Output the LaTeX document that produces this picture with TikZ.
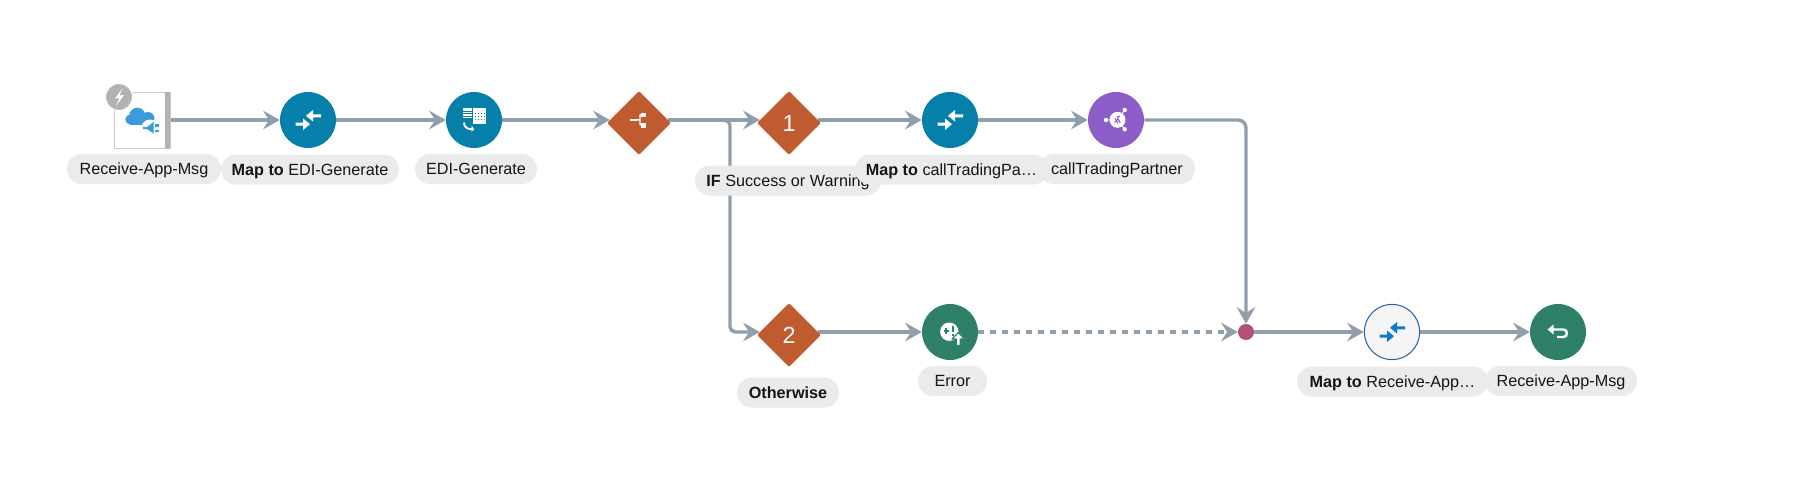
\documentclass[tikz,border=0pt]{standalone}
\usepackage{fontspec}
\setmainfont{Liberation Sans}
\usetikzlibrary{arrows.meta,shapes.geometric,calc}
\pgfdeclarelayer{bg}
\pgfsetlayers{bg,main}
\definecolor{linegray}{HTML}{919FAD}
\definecolor{pillgray}{HTML}{EBEBEB}
\definecolor{inkblack}{HTML}{161513}
\definecolor{tealblue}{HTML}{067FAB}
\definecolor{rustorange}{HTML}{BF5B2E}
\definecolor{violetcall}{HTML}{8C5CC7}
\definecolor{greenend}{HTML}{2F8069}
\definecolor{dotrose}{HTML}{B25272}
\definecolor{cloudblue}{HTML}{3B9BDD}
\definecolor{mapblue}{HTML}{0C7BCF}
\definecolor{ringblue}{HTML}{1F62A3}
\definecolor{badgegray}{HTML}{B2B2B2}
\tikzset{
  disc/.style={circle,inner sep=0pt,minimum size=42pt,fill=#1},
  choice/.style={diamond,aspect=1,inner sep=0pt,minimum width=48pt,minimum height=48pt,fill=rustorange,rounded corners=1.5pt,text=white,font=\fontsize{17.5pt}{20pt}\selectfont},
  pill/.style={rectangle,rounded corners=11.2pt,fill=pillgray,inner sep=0pt,minimum height=22.5pt,text=inkblack,text height=8.7pt,text depth=0pt,font=\fontsize{12.15pt}{14pt}\selectfont},
  conn/.style={draw=linegray,line width=2.6pt,-{Stealth[length=12.5pt,width=14pt,inset=4.5pt]}},
  branch/.style={conn,rounded corners=4pt},
  dashconn/.style={conn,dash pattern=on 4.2pt off 4.8pt},
}
\newcommand{\mergeicon}[2]{%
  \begin{scope}[shift={(#1)}]
    \fill[#2] (-12.5,2.7) -- (-5,2.7) -- (-5,-1.5) -- (2,4.2) -- (-5,10) -- (-5,5.7) -- (-12.5,5.7) -- cycle;
    \fill[#2] (13,-5.7) -- (5,-5.7) -- (5,-10) -- (-2,-4.2) -- (5,1.5) -- (5,-2.7) -- (13,-2.7) -- cycle;
  \end{scope}}
\begin{document}
\begin{tikzpicture}[x=0.75pt,y=-0.75pt]
\useasboundingbox (0,0) rectangle (1800,482);

% nodes
\node[rectangle,draw=badgegray!70,line width=0.6pt,fill=white,inner sep=0pt,minimum width=42pt,minimum height=42pt] (src) at (142,120) {};
\node[disc=tealblue] (map1) at (308,120) {};
\node[disc=tealblue] (edi) at (474,120) {};
\node[choice] (d0) at (639,123) {};
\node[choice] (d1) at (789,123) {1};
\node[disc=tealblue] (map2) at (950,120) {};
\node[disc=violetcall] (call) at (1116,120) {};
\node[choice] (d2) at (789,335) {2};
\node[disc=greenend] (err) at (950,332) {};
\node[circle,inner sep=0pt,minimum size=12pt,fill=dotrose] (dot) at (1246,332) {};
\node[circle,inner sep=0pt,minimum size=41.5pt,fill=black!4,draw=ringblue,line width=0.75pt] (map3) at (1392,332) {};
\node[disc=greenend] (ret) at (1558,332) {};
\coordinate (fork) at (730,120);

% connectors
\begin{pgfonlayer}{bg}
\fill[white] (0,0) rectangle (1800,482);
\draw[conn] (src.east) -- (map1);
\draw[conn] (map1) -- (edi);
\draw[conn] (edi) -- (edi -| d0.174);
\draw[conn] (edi -| d0.6) -- (edi -| d1.174);
\draw[branch] (edi -| d0.6) -- (fork) -- (fork |- err) -- (err -| d2.174);
\draw[conn] (edi -| d1.6) -- (map2);
\draw[conn] (map2) -- (call);
\draw[conn,rounded corners=6pt] (call) -| (dot);
\draw[conn] (err -| d2.6) -- (err);
\draw[dashconn] (err) -- (dot);
\draw[conn] (dot) -- (map3);
\draw[conn] (map3) -- (ret);
\end{pgfonlayer}

% source icon
\fill[badgegray] (165,92) -- (169.5,92) -- (170,92.5) -- (170,147.5) -- (169.5,148) -- (165,148) -- cycle;
\fill[cloudblue] (137.3,115.7) circle (8);
\fill[cloudblue] (130.3,119.5) circle (5);
\fill[cloudblue] (148,118.5) circle (6.5);
\fill[cloudblue] (130,118) rectangle (150,125);
\fill[white] (150,128) circle (8.5);
\fill[cloudblue] (143,127) -- (147,127) -- (153.5,122) -- (153.5,133.5) -- (147,129) -- (143,129) -- cycle;
\fill[cloudblue] (155,124) rectangle (159,126.5);
\fill[cloudblue] (155,129.5) rectangle (159,132);
\fill[badgegray,draw=white,line width=0.8pt] (119,97) circle (13.5);
\fill[white] (122.5,88.5) -- (115,98.5) -- (119.5,98) -- (116,106) -- (124,95) -- (119.5,95.5) -- cycle;

% merge icons
\mergeicon{map1}{white}
\mergeicon{map2}{white}
\mergeicon{map3}{mapblue}

% EDI icon
\begin{scope}[shift={(edi)}]
  \fill[white] (-11.5,-12) rectangle (-2.5,-2);
  \fill[white] (-1.5,-12) rectangle (12,3.5);
  \foreach \yy in {-9.5,-7,-4.5} \fill[tealblue] (-11.5,\yy) rectangle (-2.5,\yy+0.9);
  \foreach \xa in {0.5,3.5,6.5,9.5} \foreach \yb in {-7.5,-4.5,-1.5} \fill[tealblue] (\xa,\yb) rectangle (\xa+1.4,\yb+1.4);
  \draw[white,line width=1.4pt] (-10,2.5) .. controls (-10,7.5) and (-6,9.5) .. (-2,9.2);
  \fill[white] (-2.5,5.5) -- (0.2,9) -- (-2.5,12) -- cycle;
\end{scope}

% split icon
\begin{scope}[shift={(d0)}]
  \fill[white] (-9,-4) rectangle (-2,-2.4);
  \draw[white,line width=1.1pt] (-2,-3.2) -- (1,-3.2) (3,-8.5) -- (1,-8) -- (1,1.5) -- (3,2);
  \fill[white] (2,-10.5) -- (7,-10.5) -- (7,-6) -- (2,-6) -- cycle;
  \fill[white] (2,-0.5) rectangle (7,4.5);
\end{scope}

% call icon
\begin{scope}[shift={(call)}]
  \draw[white,line width=0.7pt] (-10,0) -- (1.5,0) (8.7,-10) -- (1.5,0) -- (8.7,9.3);
  \fill[white] (-10,0) circle (2.2) (8.7,-10) circle (2.2) (8.7,9.3) circle (2.2);
  \fill[white] (1.5,-0.2) circle (8);
  \draw[violetcall,line width=0.8pt] (-1.5,2.5) -- (1.5,-0.5) (1.5,-3.5) -- (4,-3.5) (1,-3.5) -- (4.2,2.8) (-1,-1.8) -- (2,3.5);
\end{scope}

% error icon
\begin{scope}[shift={(err)}]
  \fill[white] (-0.7,-0.3) circle (9.2);
  \fill[greenend] (-6.5,-1.8) rectangle (-1.5,-0.3);
  \fill[greenend] (-4.8,-3.6) rectangle (-3.2,1.5);
  \fill[greenend] (1.6,-6.5) rectangle (3.6,0);
  \fill[greenend] (1.6,1.5) rectangle (3.6,3.5);
  \fill[white,draw=greenend,line width=0.9pt,line join=round] (8.3,0.5) -- (14.5,7) -- (10.3,7) -- (10.3,13.5) -- (6.3,13.5) -- (6.3,7) -- (2.1,7) -- cycle;
\end{scope}

% return icon
\begin{scope}[shift={(ret)}]
  \draw[white,line width=1.8pt] (-7.5,-2.5) -- (5.5,-2.5) .. controls (10,-2.5) and (10,5) .. (5.5,5) -- (-1,5);
  \fill[white] (-10.5,-2.5) -- (-4.5,-7.5) -- (-4.5,2.5) -- cycle;
\end{scope}

% labels
\node[pill,minimum width=115.5pt] (l1) at (144,169) {Receive-App-Msg};
\node[pill,minimum width=133.5pt] (l2) at (310,169.5) {\textbf{Map to} EDI-Generate};
\node[pill,minimum width=91.5pt] (l3) at (476,169) {EDI-Generate};
\node[pill,minimum width=139.5pt] (l4) at (788,180.5) {\textbf{IF} Success or Warning};
\node[pill,minimum width=144.75pt] (l5) at (951.5,169.5) {\textbf{Map to} callTradingPa…};
\node[pill,minimum width=117pt] (l6) at (1117,169) {callTradingPartner};
\node[pill,minimum width=76.5pt] (l7) at (788,392.5) {\textbf{Otherwise}};
\node[pill,minimum width=51.75pt] (l8) at (952.5,381) {Error};
\node[pill,minimum width=143.25pt] (l9) at (1392.5,381.5) {\textbf{Map to} Receive-App…};
\node[pill,minimum width=114pt] (l10) at (1561,381) {Receive-App-Msg};
\end{tikzpicture}
\end{document}
